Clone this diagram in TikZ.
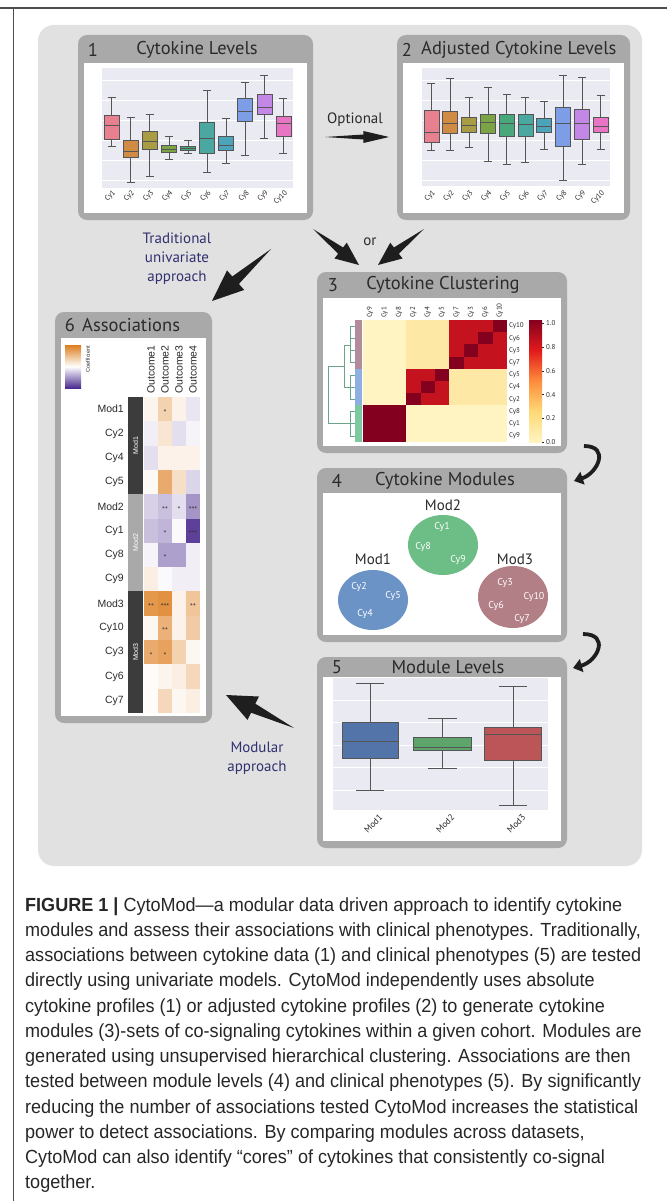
\documentclass[tikz,border=0pt]{standalone}
\usepackage{fontspec}
\setmainfont{PT Sans}
\newfontfamily\capfont[FakeStretch=0.95]{Liberation Sans}
\newfontfamily\lsfont{Liberation Sans}
\usetikzlibrary{calc,arrows.meta,shapes.geometric}

\definecolor{rulegray}{HTML}{4D4D4D}
\definecolor{bggray}{HTML}{E1E1E1}
\definecolor{framegray}{HTML}{A9A9A9}
\definecolor{titlegray}{HTML}{2B2B2B}
\definecolor{plotbg}{HTML}{EAEAF2}
\definecolor{whiskgray}{HTML}{555555}
\definecolor{navytext}{HTML}{303070}
\definecolor{arrowblack}{HTML}{1E1E1E}
% box colours, cytokines
\definecolor{hu1}{HTML}{E8808F}
\definecolor{hu2}{HTML}{D08C45}
\definecolor{hu3}{HTML}{A89C45}
\definecolor{hu4}{HTML}{7BA545}
\definecolor{hu5}{HTML}{48A87C}
\definecolor{hu6}{HTML}{4AA8A1}
\definecolor{hu7}{HTML}{4CA4BB}
\definecolor{hu8}{HTML}{7D9DE6}
\definecolor{hu9}{HTML}{C388E6}
\definecolor{hu10}{HTML}{E775C4}
% heatmap
\definecolor{hmdark}{HTML}{84001F}
\definecolor{hmred}{HTML}{C4121E}
\definecolor{hmpale}{HTML}{FFF4C2}
\definecolor{hmpale2}{HTML}{FEE8A6}
\definecolor{cbred}{HTML}{E31A1C}
\definecolor{cborange}{HTML}{FD8D3C}
\definecolor{cbyellow}{HTML}{FED976}
\definecolor{dendro}{HTML}{6AA58A}
\definecolor{grp1c}{HTML}{7CC9A2}
\definecolor{grp2c}{HTML}{8DB0E0}
\definecolor{grp3c}{HTML}{B28B9C}
% modules
\definecolor{mod1c}{HTML}{6B93C6}
\definecolor{mod2c}{HTML}{6DBD86}
\definecolor{mod3c}{HTML}{B27F86}
\definecolor{dp1}{HTML}{5274A8}
\definecolor{dp2}{HTML}{5EA56C}
\definecolor{dp3}{HTML}{BB5558}
% associations
\definecolor{posc}{HTML}{DD7E1E}
\definecolor{negc}{HTML}{4B2B8F}
\definecolor{grpdark}{HTML}{3C3C3C}
\definecolor{grplight}{HTML}{A9A9A9}

% wedge shaped arrow: from, to, body half width, head half width
\newcommand\fatarrow[4]{%
  \path (#1) -- (#2) coordinate[pos=.6] (#1-m);
  \fill[arrowblack] (#1) -- ($(#1-m)!#3!90:(#2)$) -- ($(#1-m)!#4!90:(#2)$) -- (#2)
    -- ($(#1-m)!#4!-90:(#2)$) -- ($(#1-m)!#3!-90:(#2)$) -- cycle;}

\begin{document}
\begin{tikzpicture}[x=1pt,y=-1pt,
	panelframe/.style={fill=framegray,rounded corners=9pt},
	paneltitle/.style={font=\fontsize{18.5}{22}\selectfont,text=titlegray,inner sep=0pt},
	whisk/.style={draw=whiskgray,line width=.6pt},
	boxline/.style={draw=whiskgray,line width=.6pt},
	ticklab/.style={font=\fontsize{7.5}{8}\selectfont,text=titlegray,rotate=45,anchor=east,inner sep=0pt},
	hmlab/.style={font=\fontsize{7}{8}\selectfont,text=titlegray,inner sep=0pt},
	modell/.style={ellipse,minimum width=70pt,minimum height=60pt,inner sep=0pt},
	modname/.style={font=\fontsize{15}{17}\selectfont,text=titlegray,inner sep=0pt},
	cylab/.style={font=\fontsize{10}{11}\selectfont,text=white,inner sep=0pt},
	rowlab/.style={font=\lsfont\fontsize{10.5}{12}\selectfont,text=titlegray,anchor=east,inner sep=0pt},
	outlab/.style={font=\lsfont\fontsize{10.5}{12}\selectfont,text=titlegray,rotate=90,anchor=west,inner sep=0pt},
	grplab/.style={font=\lsfont\fontsize{7}{8}\selectfont,text=white,rotate=90,inner sep=0pt},
	starlab/.style={font=\fontsize{8}{9}\selectfont,text=black!80,inner sep=0pt},
	approach/.style={font=\fontsize{15}{19}\selectfont,text=navytext,align=center,inner sep=0pt},
	curvarrow/.style={draw=arrowblack,line width=3.8pt,-{Triangle[length=9pt,width=13pt]}},
	captxt/.style={font=\capfont\fontsize{19}{22}\selectfont,text=black!85,anchor=base west,inner sep=0pt}]

\useasboundingbox (0,0) rectangle (667,1201);
\draw[rulegray,line width=1.2pt] (0,8) -- (667,8);
\draw[rulegray,line width=1pt] (13,8) -- (13,1201);

% grey background
\fill[bggray,rounded corners=16pt] (38,25) rectangle (642,866);

% panel 1
\fill[panelframe] (78,35) rectangle (313,220);
\fill[white] (84,63) rectangle (307,213);
\node[paneltitle] (n1) at (93,50) {1};
\node[paneltitle] (t1) at (197,50) {Cytokine Levels};
\fill[plotbg] (102,68) rectangle (293,188);
\foreach \gy in {80,100,...,180} \draw[white,line width=.5pt] (102,\gy) -- (293,\gy);
\foreach \wt/\bt/\md/\bb/\wb [count=\i] in {97/115/125/139/146,117/140/151/157/182,114/131/141/149/176,
	136/145/149/152/159,140/146/148/150/153,90/122/138/153/172,118/136/145/150/163,
	82/98/111/121/155,75/94/107/114/138,98/116/123/136/153}{
	\pgfmathsetmacro\bx{102+19.1*(\i-.5)}
	\draw[whisk] (\bx,\wt) -- (\bx,\bt) (\bx,\bb) -- (\bx,\wb) (\bx-4,\wt) -- (\bx+4,\wt) (\bx-4,\wb) -- (\bx+4,\wb);
	\filldraw[boxline,fill=hu\i] (\bx-7.5,\bt) rectangle (\bx+7.5,\bb);
	\draw[whisk] (\bx-7.5,\md) -- (\bx+7.5,\md);
	\node[ticklab] (pa\i) at (\bx+3,192) {Cy\i};
}

% panel 2
\fill[panelframe] (397,35) rectangle (630,220);
\fill[white] (403,63) rectangle (624,213);
\node[paneltitle] (n2) at (407,50) {2};
\node[paneltitle,anchor=west] (t2) at (421,50) {Adjusted Cytokine Levels};
\fill[plotbg] (422,68) rectangle (610,186);
\foreach \gy in {80,100,...,180} \draw[white,line width=.5pt] (422,\gy) -- (610,\gy);
\foreach \wt/\bt/\md/\bb/\wb [count=\i] in {83/110/132/142/150,78/111/123/133/150,97/117/125/132/147,
	87/114/122/133/161,94/114/123/136/164,97/114/124/136/162,101/118/126/132/149,
	75/107/123/146/180,77/109/123/139/164,95/117/126/132/149}{
	\pgfmathsetmacro\bx{422+18.8*(\i-.5)}
	\draw[whisk] (\bx,\wt) -- (\bx,\bt) (\bx,\bb) -- (\bx,\wb) (\bx-4,\wt) -- (\bx+4,\wt) (\bx-4,\wb) -- (\bx+4,\wb);
	\filldraw[boxline,fill=hu\i] (\bx-7.5,\bt) rectangle (\bx+7.5,\bb);
	\draw[whisk] (\bx-7.5,\md) -- (\bx+7.5,\md);
	\node[ticklab] (pb\i) at (\bx+3,192) {Cy\i};
}

% optional adjustment
\node[font=\fontsize{15}{17}\selectfont,text=titlegray,inner sep=0pt] (opt) at (355,120) {Optional};
\coordinate (opts) at (325,137);
\coordinate (opte) at (389,137);
\fatarrow{opts}{opte}{2.5pt}{6pt}

% to clustering
\node[font=\fontsize{15}{17}\selectfont,text=titlegray,inner sep=0pt] (or) at (370,242) {or};
\coordinate (ors1) at (313,229);
\coordinate (ore1) at (359,265);
\coordinate (ors2) at (424,229);
\coordinate (ore2) at (378,265);
\fatarrow{ors1}{ore1}{4pt}{10pt}
\fatarrow{ors2}{ore2}{4pt}{10pt}

% traditional route
\node[approach] (trad) at (177,259) {Traditional\\univariate\\approach};
\coordinate (trads) at (271,249);
\coordinate (trade) at (212,301);
\fatarrow{trads}{trade}{5pt}{13pt}

% panel 3
\fill[panelframe] (317,272) rectangle (567,453);
\fill[white] (323,298) rectangle (561,446);
\node[paneltitle] (n3) at (333,285) {3};
\node[paneltitle] (t3) at (443,285) {Cytokine Clustering};
\foreach \r in {1,...,10}{
	\foreach \c in {1,...,10}{
		\pgfmathtruncatemacro\rg{\r<5 ? 3 : (\r<8 ? 2 : 1)}
		\pgfmathtruncatemacro\cg{\c<4 ? 1 : (\c<7 ? 2 : 3)}
		\ifnum\rg=\cg
			\ifnum\numexpr\r+\c\relax=11 \def\hc{hmdark}\else\ifnum\rg=1 \def\hc{hmdark}\else\def\hc{hmred}\fi\fi
		\else
			\ifnum\rg>1 \ifnum\cg>1 \def\hc{hmpale2}\else\def\hc{hmpale}\fi\else\def\hc{hmpale}\fi
		\fi
		\fill[\hc] ({363+14.4*(\c-1)},{320+12.2*(\r-1)}) rectangle ++(14.45,12.25);
	}
}
\foreach \lab [count=\c] in {Cy9,Cy1,Cy8,Cy2,Cy4,Cy5,Cy7,Cy3,Cy6,Cy10}
	\node[hmlab,rotate=90,anchor=west] (hc\c) at ({363+14.4*(\c-.5)},318) {\lab};
\foreach \lab [count=\r] in {Cy10,Cy6,Cy3,Cy7,Cy5,Cy4,Cy2,Cy8,Cy1,Cy9}
	\node[hmlab,anchor=west] (hr\r) at (509,{320+12.2*(\r-.5)}) {\lab};
% dendrogram and cluster bars
\fill[grp3c] (355,320) rectangle (362,368.8);
\fill[grp2c] (355,368.8) rectangle (362,405.4);
\fill[grp1c] (355,405.4) rectangle (362,442);
\foreach \r in {1,...,10} \draw[dendro,line width=.5pt] (355,{320+12.2*(\r-.5)}) -- (350,{320+12.2*(\r-.5)});
\draw[dendro,line width=.5pt] (350,326) -- (350,363) (350,375) -- (350,399) (350,411) -- (350,436)
	(350,345) -- (344,345) (350,387) -- (344,387) (344,345) -- (344,387)
	(344,366) -- (328,366) (350,423) -- (328,423) (328,366) -- (328,423);
% colour bar
\foreach \ya/\yb/\ca/\cb in {320/350.5/hmdark/cbred,350.5/381/cbred/cborange,381/411.5/cborange/cbyellow,411.5/442/cbyellow/hmpale}
	\shade[top color=\ca,bottom color=\cb] (529,\ya) rectangle (542,\yb);
\foreach \v [count=\k] in {1.0,0.8,0.6,0.4,0.2,0.0}{
	\draw[titlegray,line width=.3pt] (542,{323.5+23.7*(\k-1)}) -- (544,{323.5+23.7*(\k-1)});
	\node[hmlab,anchor=west] (cb\k) at (546,{323.5+23.7*(\k-1)}) {\v};
}

% clustering to modules
\coordinate (c1s) at (584,446);
\coordinate (c1e) at (574,481);
\draw[curvarrow] (c1s) .. controls (610,446) and (598,473) .. (c1e);

% panel 4
\fill[panelframe] (317,468) rectangle (567,642);
\fill[white] (323,493) rectangle (561,635);
\node[paneltitle] (n4) at (337,481) {4};
\node[paneltitle] (t4) at (445,481) {Cytokine Modules};
\node[modell,fill=mod2c] (m2) at (443,545) {};
\node[modell,fill=mod1c] (m1) at (373,600) {};
\node[modell,fill=mod3c,minimum height=62pt] (m3) at (513,597) {};
\node[modname] (m2lab) at (443,505) {Mod2};
\node[modname] (m1lab) at (373,559) {Mod1};
\node[modname] (m3lab) at (515,559) {Mod3};
\node[cylab] (m2a) at (442,527) {Cy1};
\node[cylab] (m2b) at (423,547) {Cy8};
\node[cylab] (m2c) at (458,560) {Cy9};
\node[cylab] (m1a) at (359,587) {Cy2};
\node[cylab] (m1b) at (393,596) {Cy5};
\node[cylab] (m1c) at (365,614) {Cy4};
\node[cylab] (m3a) at (505,583) {Cy3};
\node[cylab] (m3b) at (534,597) {Cy10};
\node[cylab] (m3c) at (496,606) {Cy6};
\node[cylab] (m3d) at (522,619) {Cy7};

% modules to levels
\coordinate (c2s) at (583,634);
\coordinate (c2e) at (573,668);
\draw[curvarrow] (c2s) .. controls (610,634) and (598,661) .. (c2e);

% panel 5
\fill[panelframe] (317,657) rectangle (567,848);
\fill[white] (323,677) rectangle (561,841);
\node[paneltitle] (n5) at (337,667) {5};
\node[paneltitle] (t5) at (448,667) {Module Levels};
\fill[plotbg] (333,678) rectangle (548,810);
\foreach \gy in {700,722,745,767,790} \draw[white,line width=.5pt] (333,\gy) -- (548,\gy);
\foreach \bx/\hw/\wt/\bt/\md/\bb/\wb/\col [count=\i] in {370/28/683/722/741/758/790/dp1,
	442/29/718/737/747/750/768/dp2,513/28.5/686/727/734/760/805/dp3}{
	\draw[whisk] (\bx,\wt) -- (\bx,\bt) (\bx,\bb) -- (\bx,\wb) (\bx-\hw/2,\wt) -- (\bx+\hw/2,\wt) (\bx-\hw/2,\wb) -- (\bx+\hw/2,\wb);
	\filldraw[boxline,fill=\col] (\bx-\hw,\bt) rectangle (\bx+\hw,\bb);
	\draw[whisk] (\bx-\hw,\md) -- (\bx+\hw,\md);
	\node[ticklab,font=\fontsize{9}{10}\selectfont] (pm\i) at (\bx+11,816) {Mod\i};
}

% modular route
\node[approach] (modr) at (257,758) {Modular\\approach};
\coordinate (mods) at (294,728);
\coordinate (mode) at (226,695);
\fatarrow{mods}{mode}{5pt}{13pt}

% panel 6
\fill[panelframe] (55,312) rectangle (212,723);
\fill[white] (61,338) rectangle (206,716);
\node[paneltitle] (n6) at (70,325) {6};
\node[paneltitle,anchor=west] (t6) at (82,325) {Associations};
\shade[top color=posc,bottom color=negc,middle color=white] (65,345) rectangle (81,388);
\node[font=\lsfont\fontsize{5.5}{6}\selectfont,text=titlegray,rotate=90,anchor=east,inner sep=0pt] (coef) at (88,346) {Coefficient};
\foreach \lab [count=\c] in {Outcome1,Outcome2,Outcome3,Outcome4}
	\node[outlab] (oc\c) at ({144+14*(\c-.5)},394) {\lab};
\foreach \vals [count=\r] in {{8,35,10,-12},{-8,20,-15,-5},{-15,10,10,10},{5,65,25,-20},
	{-22,-30,-15,-50},{-30,-35,-3,-90},{-5,-45,-45,-8},{12,-3,-8,-8},
	{80,85,10,45},{6,60,10,40},{65,72,35,6},{3,8,12,30},{3,30,6,12}}{
	\foreach \v [count=\c] in \vals {
		\ifnum\v<0 \pgfmathtruncatemacro\av{-\v}\def\cc{negc}\else\pgfmathtruncatemacro\av{\v}\def\cc{posc}\fi
		\fill[\cc!\av!white] ({144+14*(\c-1)},{397+24.3*(\r-1)}) rectangle ++(14.05,24.35);
	}
}
\foreach \lab [count=\r] in {Mod1,Cy2,Cy4,Cy5,Mod2,Cy1,Cy8,Cy9,Mod3,Cy10,Cy3,Cy6,Cy7}
	\node[rowlab] (ar\r) at (124,{397+24.3*(\r-.5)}) {\lab};
\fill[grpdark] (128,397) rectangle (143,494.2);
\fill[grplight] (128,494.2) rectangle (143,591.4);
\fill[grpdark] (128,591.4) rectangle (143,713);
\node[grplab] (g1) at (135.5,445.6) {Mod1};
\node[grplab] (g2) at (135.5,542.8) {Mod2};
\node[grplab] (g3) at (135.5,652.2) {Mod3};
\foreach \r/\c/\s in {1/2/*,5/2/**,5/3/*,5/4/***,6/2/*,6/4/***,7/2/*,9/1/**,9/2/***,9/4/**,10/2/**,11/1/*,11/2/*}
	\node[starlab] (st\r-\c) at ({144+14*(\c-.5)},{397+24.3*(\r-.5)+3}) {\s};

% caption
\foreach \ln [count=\i] in {
	{\textbf{FIGURE 1 |} CytoMod—a modular data driven approach to identify cytokine},
	{modules and assess their associations with clinical phenotypes. Traditionally,},
	{associations between cytokine data (1) and clinical phenotypes (5) are tested},
	{directly using univariate models. CytoMod independently uses absolute},
	{cytokine profiles (1) or adjusted cytokine profiles (2) to generate cytokine},
	{modules (3)-sets of co-signaling cytokines within a given cohort. Modules are},
	{generated using unsupervised hierarchical clustering. Associations are then},
	{tested between module levels (4) and clinical phenotypes (5). By significantly},
	{reducing the number of associations tested CytoMod increases the statistical},
	{power to detect associations. By comparing modules across datasets,},
	{CytoMod can also identify “cores” of cytokines that consistently co-signal},
	{together.}}
	\node[captxt] (cap\i) at (25,{911+25.27*(\i-1)}) {\ln};
\end{tikzpicture}
\end{document}
